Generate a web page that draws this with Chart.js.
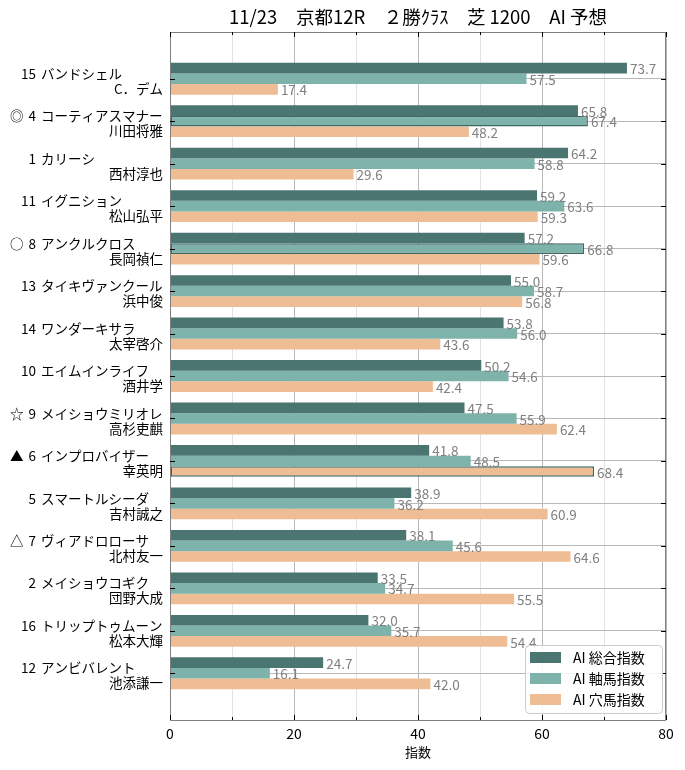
<!DOCTYPE html>
<html>
<head>
<meta charset="utf-8">
<script src="https://cdn.jsdelivr.net/npm/chart.js@4"></script>
<style>
  html, body { margin: 0; padding: 0; background: #fff; }
  #wrap { width: 685px; height: 770px; }
</style>
</head>
<body>
<div id="wrap"><canvas id="myChart"></canvas></div>
<script>
const FONT = '"Noto Sans CJK JP", "Noto Sans", sans-serif';

const title = '11/23\u3000京都12R\u3000２勝ｸﾗｽ\u3000芝 1200\u3000AI 予想';
const marks = ['', '◎', '', '', '○', '', '', '', '☆', '▲', '', '△', '', '', ''];
const numbers = ['15', '4', '1', '11', '8', '13', '14', '10', '9', '6', '5', '7', '2', '16', '12'];
const horses = ['バンドシェル', 'コーティアスマナー', 'カリーシ', 'イグニション', 'アンクルクロス',
    'タイキヴァンクール', 'ワンダーキサラ', 'エイムインライフ', 'メイショウミリオレ', 'インプロバイザー',
    'スマートルシーダ', 'ヴィアドロローサ', 'メイショウコギク', 'トリップトゥムーン', 'アンビバレント'];
const jockeys = ['C．デム', '川田将雅', '西村淳也', '松山弘平', '長岡禎仁', '浜中俊', '太宰啓介', '酒井学',
    '高杉吏麒', '幸英明', '吉村誠之', '北村友一', '団野大成', '松本大輝', '池添謙一'];

const seriesNames = ['AI 総合指数', 'AI 軸馬指数', 'AI 穴馬指数'];
const sogo = [73.7, 65.8, 64.2, 59.2, 57.2, 55.0, 53.8, 50.2, 47.5, 41.8, 38.9, 38.1, 33.5, 32.0, 24.7];
const jiku = [57.5, 67.4, 58.8, 63.6, 66.8, 58.7, 56.0, 54.6, 55.9, 48.5, 36.2, 45.6, 34.7, 35.7, 16.1];
const ana = [17.4, 48.2, 29.6, 59.3, 59.6, 56.8, 43.6, 42.4, 62.4, 68.4, 60.9, 64.6, 55.5, 54.4, 42.0];
const xTicks = [0, 10, 20, 30, 40, 50, 60, 70, 80];

const colors = ['#4b7570', '#7eb3ab', '#efbd93'];
const edge = '#3e6a64';

// bars with outline: 軸馬 for ◎ and ○, 穴馬 for ▲
const jikuBorder = jiku.map((_, i) => (i === 1 || i === 4) ? 1.5 : 0);
const anaBorder = ana.map((_, i) => i === 9 ? 1.5 : 0);

const toPoints = (arr) => arr.map((v, i) => ({ x: v, y: i }));

const overlay = {
    id: 'overlay',
    afterDatasetsDraw(chart) {
        const ctx = chart.ctx;
        ctx.save();
        ctx.font = '13.5px ' + FONT;
        ctx.fillStyle = '#808080';
        ctx.textAlign = 'left';
        ctx.textBaseline = 'middle';
        chart.data.datasets.forEach((ds, d) => {
            const meta = chart.getDatasetMeta(d);
            meta.data.forEach((bar, i) => {
                ctx.fillText(ds.data[i].x.toFixed(1), bar.x + 3, bar.y + 1);
            });
        });
        ctx.restore();
    },
    afterDraw(chart) {
        const ctx = chart.ctx;
        const a = chart.chartArea;
        const xs = chart.scales.x;
        const ys = chart.scales.y;
        ctx.save();

        // frame
        ctx.strokeStyle = '#808080';
        ctx.lineWidth = 1;
        ctx.strokeRect(a.left + 0.5, a.top + 0.5, a.right - a.left - 1, a.bottom - a.top);

        // inward ticks
        ctx.strokeStyle = '#000';
        ctx.beginPath();
        xTicks.forEach(v => {
            const px = Math.round(xs.getPixelForValue(v)) + 0.5;
            const len = v % 20 === 0 ? 5 : 3;
            ctx.moveTo(px, a.bottom); ctx.lineTo(px, a.bottom - len);
            ctx.moveTo(px, a.top); ctx.lineTo(px, a.top + len);
        });
        horses.forEach((_, i) => {
            const py = Math.round(ys.getPixelForValue(i)) + 0.5;
            ctx.moveTo(a.left, py); ctx.lineTo(a.left + 5, py);
            ctx.moveTo(a.right, py); ctx.lineTo(a.right - 5, py);
        });
        ctx.stroke();

        // y labels
        ctx.fillStyle = '#000';
        ctx.font = '13.5px ' + FONT;
        ctx.textBaseline = 'middle';
        horses.forEach((name, i) => {
            const c = ys.getPixelForValue(i);
            ctx.textAlign = 'left';
            if (marks[i]) ctx.fillText(marks[i], 10, c - 5);
            ctx.textAlign = 'right';
            ctx.fillText(numbers[i], 36, c - 5);
            ctx.textAlign = 'left';
            ctx.fillText(name, 41, c - 5);
            ctx.textAlign = 'right';
            ctx.fillText(jockeys[i], 163, c + 10);
        });

        // title
        ctx.font = '18.5px ' + FONT;
        ctx.textAlign = 'center';
        ctx.fillText(title, (a.left + a.right) / 2, 17);

        // legend
        const bw = 137, bh = 68;
        const bx = a.right - 4 - bw, by = a.bottom - 7 - bh;
        ctx.fillStyle = 'rgba(255,255,255,0.85)';
        ctx.strokeStyle = '#cccccc';
        ctx.beginPath();
        ctx.roundRect(bx + 0.5, by + 0.5, bw, bh, 4);
        ctx.fill();
        ctx.stroke();
        ctx.font = '14px ' + FONT;
        ctx.textAlign = 'left';
        seriesNames.forEach((s, k) => {
            const yy = by + 12 + k * 21;
            ctx.fillStyle = colors[k];
            ctx.fillRect(bx + 5, yy - 5, 31, 11);
            ctx.fillStyle = '#000';
            ctx.fillText(s, bx + 48, yy + 1);
        });
        ctx.restore();
    }
};

new Chart(document.getElementById('myChart'), {
    type: 'bar',
    data: {
        datasets: [{
            label: seriesNames[0],
            data: toPoints(sogo),
            backgroundColor: colors[0],
            borderWidth: 0
        }, {
            label: seriesNames[1],
            data: toPoints(jiku),
            backgroundColor: colors[1],
            borderColor: edge,
            borderWidth: jikuBorder,
            borderSkipped: false
        }, {
            label: seriesNames[2],
            data: toPoints(ana),
            backgroundColor: colors[2],
            borderColor: edge,
            borderWidth: anaBorder,
            borderSkipped: false
        }]
    },
    options: {
        indexAxis: 'y',
        responsive: true,
        maintainAspectRatio: false,
        animation: false,
        categoryPercentage: 0.75,
        barPercentage: 1.0,
        layout: { padding: { top: 32, right: 19, left: 0, bottom: 0 } },
        scales: {
            x: {
                type: 'linear',
                min: 0,
                max: 80,
                z: 1,
                afterBuildTicks: (axis) => { axis.ticks = xTicks.map(v => ({ value: v })); },
                afterFit: (axis) => { axis.height = 50; },
                ticks: {
                    padding: 5,
                    color: '#000',
                    font: { family: FONT, size: 14 },
                    callback: (v) => v % 20 === 0 ? v : ''
                },
                grid: {
                    drawTicks: false,
                    color: (c) => c.tick && c.tick.value % 20 === 0 ? '#b8b8b8' : '#e2e2e2'
                },
                border: { display: false },
                title: {
                    display: true,
                    text: '指数',
                    color: '#000',
                    font: { family: FONT, size: 13 },
                    padding: { top: 2, bottom: 10 }
                }
            },
            y: {
                type: 'linear',
                reverse: true,
                offset: false,
                min: -1.1,
                max: 15.1,
                z: 1,
                afterBuildTicks: (axis) => { axis.ticks = horses.map((_, i) => ({ value: i })); },
                afterFit: (axis) => { axis.width = 170; },
                ticks: { display: false },
                grid: { drawTicks: false, offset: false, color: '#b8b8b8' },
                border: { display: false }
            }
        },
        plugins: {
            legend: { display: false },
            title: { display: false },
            tooltip: { enabled: false }
        }
    },
    plugins: [overlay]
});
</script>
</body>
</html>
